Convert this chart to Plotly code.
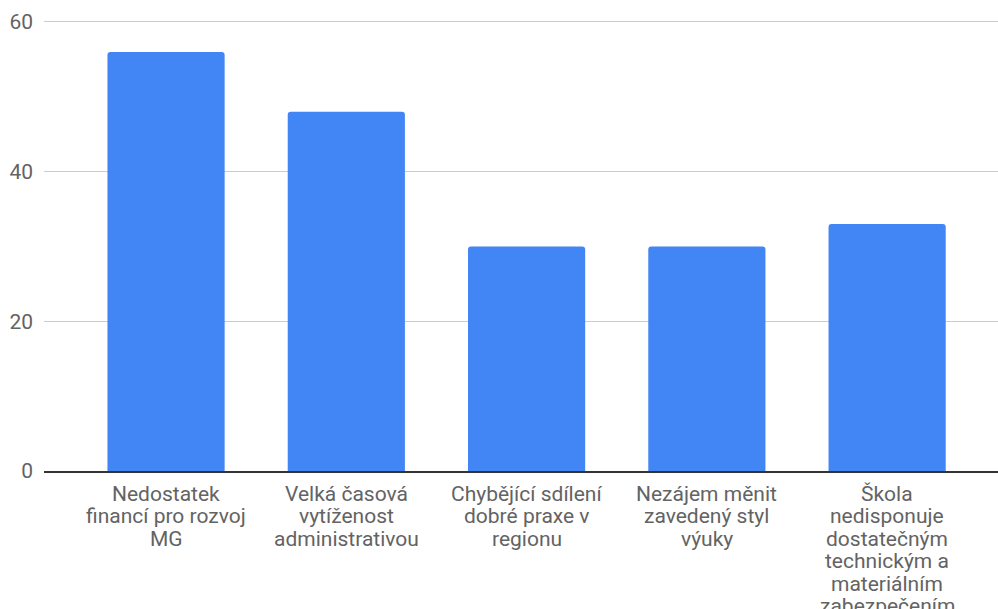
import plotly.graph_objects as go

# Data
labels = [
    ["Nedostatek", "financí pro rozvoj", "MG"],
    ["Velká časová", "vytíženost", "administrativou"],
    ["Chybějící sdílení", "dobré praxe v", "regionu"],
    ["Nezájem měnit", "zavedený styl", "výuky"],
    ["Škola", "nedisponuje", "dostatečným", "technickým a", "materiálním", "zabezpečením"],
]
values = [56, 48, 30, 30, 33]
y_ticks = [0, 20, 40, 60]

BAR_COLOR = "#4285f4"
TEXT_COLOR = "#636363"
GRID_COLOR = "#cccccc"
FONT_SIZE = 21
LINE_STEP = 22.4  # the reference wraps its labels tighter than plotly's <br>

x_idx = list(range(len(values)))

fig = go.Figure()
fig.add_trace(go.Bar(
    x=x_idx,
    y=values,
    marker=dict(color=BAR_COLOR, line=dict(width=0), cornerradius=3),
    hovertemplate="%{y}<extra></extra>",
))

# category labels, one annotation per wrapped line
for i, lines in enumerate(labels):
    for j, line in enumerate(lines):
        fig.add_annotation(
            x=i, y=0, xref="x", yref="y",
            text=line, showarrow=False,
            xanchor="center", yanchor="middle",
            yshift=-23 - LINE_STEP * j,
            font=dict(size=FONT_SIZE, color=TEXT_COLOR),
        )

fig.update_layout(
    width=998,
    height=609,
    paper_bgcolor="white",
    plot_bgcolor="white",
    font=dict(family="Roboto, sans-serif", size=FONT_SIZE, color=TEXT_COLOR),
    margin=dict(l=44, r=0, t=7, b=138, autoexpand=False),
    bargap=0.35,
    showlegend=False,
)
fig.update_xaxes(
    tickvals=x_idx,
    range=[-0.677, 4.615],
    showticklabels=False,
    showgrid=False,
    showline=True,
    linecolor="#333333",
    linewidth=1.5,
    ticks="",
    automargin=False,
)
fig.update_yaxes(
    range=[0, 62],
    tickvals=y_ticks,
    showgrid=True,
    gridcolor=GRID_COLOR,
    gridwidth=1,
    zeroline=False,
    showline=False,
    ticks="",
    ticklabelstandoff=10,
    automargin=False,
)

# page body has a default 8px margin; drop it so the chart sits at the corner
fig.write_html(
    "out.html",
    config={"displayModeBar": False},
    post_script="document.body.style.margin='0';",
)
